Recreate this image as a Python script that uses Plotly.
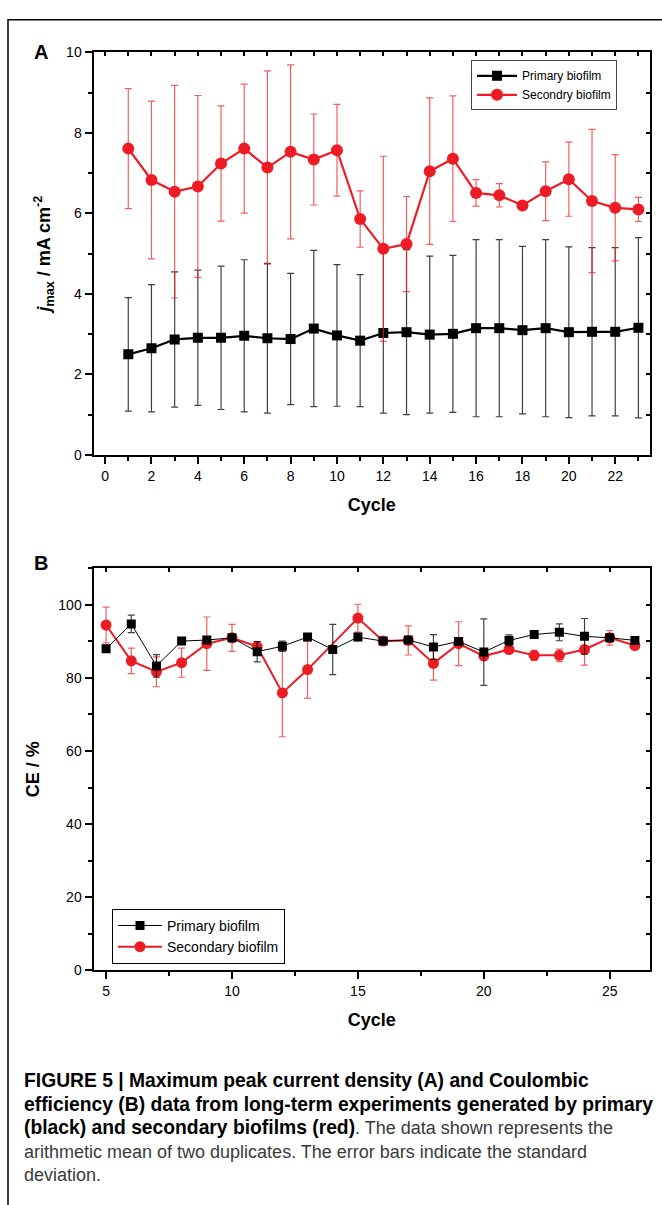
import plotly.graph_objects as go

# ---------------- Data ----------------
cycles_a = list(range(1, 24))
primary_a = [2.50, 2.65, 2.87, 2.91, 2.91, 2.96, 2.90, 2.88, 3.14, 2.97, 2.84, 3.03,
             3.05, 2.99, 3.01, 3.15, 3.15, 3.10, 3.15, 3.05, 3.06, 3.06, 3.16]
primary_a_err = [1.41, 1.58, 1.68, 1.68, 1.78, 1.89, 1.86, 1.63, 1.94, 1.76, 1.64, 1.99,
                 2.05, 1.95, 1.95, 2.20, 2.20, 2.08, 2.20, 2.12, 2.09, 2.09, 2.24]
secondary_a = [7.61, 6.83, 6.54, 6.67, 7.24, 7.61, 7.14, 7.53, 7.34, 7.57, 5.86, 5.12,
               5.24, 7.05, 7.36, 6.51, 6.45, 6.20, 6.55, 6.85, 6.31, 6.14, 6.10]
secondary_a_err = [1.49, 1.96, 2.64, 2.26, 1.43, 1.60, 2.40, 2.16, 1.13, 1.14, 0.70, 2.30,
                   1.18, 1.82, 1.56, 0.33, 0.29, 0.05, 0.73, 0.92, 1.78, 1.32, 0.30]

cycles_b_primary = list(range(5, 27))
primary_b = [88.0, 94.8, 83.3, 90.1, 90.4, 91.0, 87.2, 88.7, 91.2, 87.8, 91.2, 90.1,
             90.4, 88.5, 90.0, 87.1, 90.3, 91.9, 92.5, 91.4, 91.0, 90.3]
primary_b_err = [0.5, 2.4, 3.1, 0.5, 0.5, 0.5, 2.8, 1.4, 0.5, 6.9, 1.0, 0.5,
                 0.5, 3.4, 0.5, 9.1, 1.5, 0.5, 2.3, 4.9, 1.0, 0.5]
cycles_b_secondary = [5, 6, 7, 8, 9, 10, 11, 12, 13, 15, 16, 17, 18, 19, 20, 21, 22, 23, 24, 25, 26]
secondary_b = [94.5, 84.7, 81.7, 84.2, 89.4, 91.0, 88.6, 75.9, 82.3, 96.4, 90.1, 90.3,
               84.0, 89.4, 86.0, 87.8, 86.2, 86.2, 87.8, 91.0, 88.9]
secondary_b_err = [4.9, 3.5, 4.1, 4.0, 7.3, 3.7, 1.4, 12.0, 7.8, 3.8, 1.0, 4.0,
                   4.6, 6.0, 1.0, 1.0, 1.4, 1.7, 4.3, 2.0, 0.5]

BOLD = '<span style="font-size:19.3px;color:black"><b>'
BOLD_END = '</b></span>'
GREY = '<span style="color:#3a3a3a">'
GREY_END = '</span>'
caption_lines = [
    BOLD + "FIGURE 5 | Maximum peak current density (A) and Coulombic" + BOLD_END,
    BOLD + "efficiency (B) data from long-term experiments generated by primary" + BOLD_END,
    BOLD + "(black) and secondary biofilms (red)" + BOLD_END + GREY + ". The data shown represents the" + GREY_END,
    GREY + "arithmetic mean of two duplicates. The error bars indicate the standard" + GREY_END,
    GREY + "deviation." + GREY_END,
]

# ---------------- Layout helpers ----------------
W, H = 662, 1205
def px_x(x):
    return x / W
def px_y(y):
    return 1 - y / H

RED = "rgb(237,28,36)"
RED_ERR = "rgba(237,40,40,0.75)"
BLK_ERR = "rgba(0,0,0,0.75)"
FONT = "Liberation Sans, Arial, sans-serif"

fig = go.Figure()

# Panel A
fig.add_trace(go.Scatter(
    x=cycles_a, y=primary_a, mode="lines+markers", name="Primary biofilm",
    line=dict(color="black", width=2.2),
    marker=dict(symbol="square", size=10, color="black"),
    error_y=dict(type="data", array=primary_a_err, color=BLK_ERR, thickness=1.2, width=3.5),
    xaxis="x", yaxis="y", legend="legend"))
fig.add_trace(go.Scatter(
    x=cycles_a, y=secondary_a, mode="lines+markers", name="Secondry biofilm",
    line=dict(color=RED, width=2.2),
    marker=dict(symbol="circle", size=12, color=RED),
    error_y=dict(type="data", array=secondary_a_err, color=RED_ERR, thickness=1.2, width=3.5),
    xaxis="x", yaxis="y", legend="legend"))

# Panel B
fig.add_trace(go.Scatter(
    x=cycles_b_secondary, y=secondary_b, mode="lines+markers", name="Secondary biofilm",
    line=dict(color=RED, width=2),
    marker=dict(symbol="circle", size=11, color=RED),
    error_y=dict(type="data", array=secondary_b_err, color=RED_ERR, thickness=1.2, width=3.5),
    xaxis="x2", yaxis="y2", legend="legend2", legendrank=2))
fig.add_trace(go.Scatter(
    x=cycles_b_primary, y=primary_b, mode="lines+markers", name="Primary biofilm",
    line=dict(color="black", width=1),
    marker=dict(symbol="square", size=9, color="black"),
    error_y=dict(type="data", array=primary_b_err, color=BLK_ERR, thickness=1.2, width=3.5),
    xaxis="x2", yaxis="y2", legend="legend2", legendrank=1))

# dummy traces for inward mirror-tick axes
for xa, ya in (("x3", "y3"), ("x4", "y4")):
    fig.add_trace(go.Scatter(x=[None], y=[None], xaxis=xa, yaxis=ya, showlegend=False,
                             hoverinfo="skip"))

dom_x = [px_x(93.5), px_x(650)]
dom_a = [px_y(453), px_y(45)]
dom_b = [px_y(975), px_y(568)]

tickfont = dict(family=FONT, size=14, color="black")
titlefont = dict(family=FONT, size=18, color="black")

common_axis = dict(showline=True, linecolor="black", linewidth=2, mirror=True,
                   showgrid=False, zeroline=False, ticks="outside", ticklen=7,
                   tickwidth=1.5, tickcolor="black", tickfont=tickfont)

xr_a = [-0.5, 23.5]
yr_a = [0, 10]
xr_b = [4.5, 26.6]
yr_b = [0, 110]

fig.update_layout(
    width=W, height=H, margin=dict(l=0, r=0, t=0, b=0),
    paper_bgcolor="white", plot_bgcolor="white",
    font=dict(family=FONT, color="black"),
    xaxis=dict(**common_axis, domain=dom_x, anchor="y", range=xr_a, dtick=2, tick0=0,
               minor=dict(dtick=1, ticklen=4, tickwidth=1.5, tickcolor="black", ticks="outside"),
               title=dict(text="<b>Cycle</b>", font=titlefont, standoff=16)),
    yaxis=dict(**common_axis, domain=dom_a, anchor="x", range=yr_a, dtick=2, tick0=0,
               minor=dict(dtick=1, ticklen=4, tickwidth=1.5, tickcolor="black", ticks="outside"),
               title=dict(text="<b><i>j</i><sub>max</sub> / mA cm<sup>-2</sup></b>",
                          font=titlefont, standoff=11)),
    xaxis2=dict(**common_axis, domain=dom_x, anchor="y2", range=xr_b, dtick=5, tick0=5,
                minor=dict(dtick=2.5, tick0=5, ticklen=4, tickwidth=1.5, tickcolor="black", ticks="outside"),
                title=dict(text="<b>Cycle</b>", font=titlefont, standoff=16)),
    yaxis2=dict(**common_axis, domain=dom_b, anchor="x2", range=yr_b, dtick=20, tick0=0,
                minor=dict(dtick=10, ticklen=4, tickwidth=1.5, tickcolor="black", ticks="outside"),
                title=dict(text="<b>CE / %</b>", font=titlefont, standoff=14)),
    # inward mirror ticks (top / right)
    xaxis3=dict(overlaying="x", side="top", anchor="y3", range=xr_a, dtick=1, tick0=0,
                ticks="inside", ticklen=4, tickwidth=1.5, tickcolor="black",
                showticklabels=False, showline=False, showgrid=False, zeroline=False),
    yaxis3=dict(overlaying="y", side="right", anchor="x3", range=yr_a, dtick=1, tick0=0,
                ticks="inside", ticklen=4, tickwidth=1.5, tickcolor="black",
                showticklabels=False, showline=False, showgrid=False, zeroline=False),
    xaxis4=dict(overlaying="x2", side="top", anchor="y4", range=xr_b, dtick=2.5, tick0=5,
                ticks="inside", ticklen=4, tickwidth=1.5, tickcolor="black",
                showticklabels=False, showline=False, showgrid=False, zeroline=False),
    yaxis4=dict(overlaying="y2", side="right", anchor="x4", range=yr_b, dtick=10, tick0=0,
                ticks="inside", ticklen=4, tickwidth=1.5, tickcolor="black",
                showticklabels=False, showline=False, showgrid=False, zeroline=False),
    legend=dict(x=px_x(471), y=px_y(53), xanchor="left", yanchor="top",
                bordercolor="#444", borderwidth=1, bgcolor="white",
                font=dict(family=FONT, size=12, color="black"),
                tracegroupgap=0, itemwidth=40),
    legend2=dict(x=px_x(112), y=px_y(913), xanchor="left", yanchor="top",
                 bordercolor="black", borderwidth=1, bgcolor="white",
                 font=dict(family=FONT, size=14, color="black"),
                 tracegroupgap=0, itemwidth=44),
    showlegend=True,
)

# panel letters
fig.add_annotation(text="<b>A</b>", x=px_x(41), y=px_y(45), xref="paper", yref="paper",
                   xanchor="center", yanchor="middle",
                   showarrow=False, font=dict(family=FONT, size=20, color="black"))
fig.add_annotation(text="<b>B</b>", x=px_x(41), y=px_y(562), xref="paper", yref="paper",
                   xanchor="center", yanchor="middle",
                   showarrow=False, font=dict(family=FONT, size=20, color="black"))

# caption
cap_y = [1087, 1111, 1135, 1159, 1183]
for line, yy in zip(caption_lines, cap_y):
    fig.add_annotation(text=line, x=px_x(22), y=px_y(yy), xref="paper", yref="paper",
                       xanchor="left", yanchor="middle", showarrow=False,
                       font=dict(family=FONT, size=18, color="#3a3a3a"))

# outer frame
fig.add_shape(type="rect", xref="paper", yref="paper",
              x0=px_x(8), y0=-0.05, x1=1.05, y1=px_y(12),
              line=dict(color="black", width=1.5), fillcolor="rgba(0,0,0,0)", layer="below")

fig.write_html("out.html",
               post_script="document.body.style.margin='0';document.body.style.padding='0';"
                           "document.documentElement.style.overflow='hidden';")
